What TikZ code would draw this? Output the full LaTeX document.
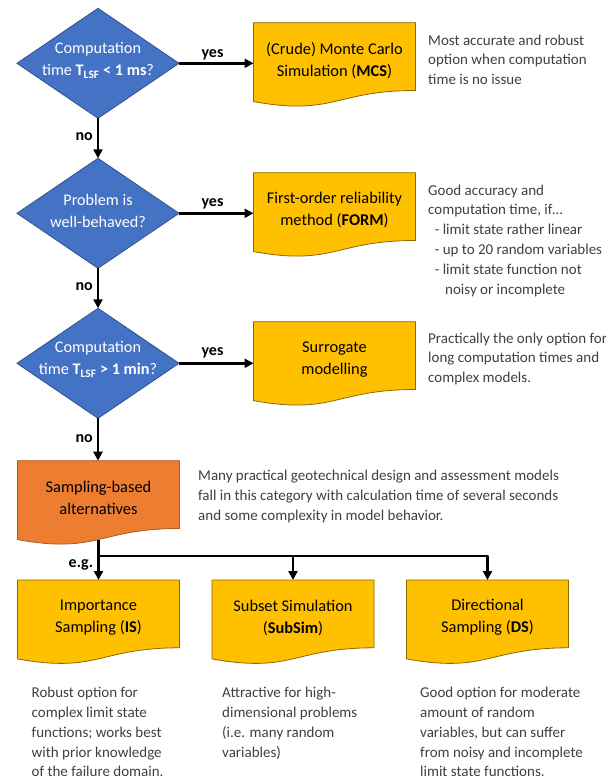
\documentclass[tikz,border=0pt]{standalone}
\usepackage{fontspec}
\setmainfont{Carlito}
\usetikzlibrary{shapes.geometric,arrows.meta}
\pgfdeclarelayer{background}
\pgfsetlayers{background,main}
\definecolor{dblue}{HTML}{4472C4}
\definecolor{dbluel}{HTML}{2F528F}
\definecolor{yel}{HTML}{FFC000}
\definecolor{yell}{HTML}{8C6A00}
\definecolor{ora}{HTML}{ED7D31}
\definecolor{oral}{HTML}{AE5A21}
\definecolor{txtg}{HTML}{404040}
\newcommand{\docshape}[2]{%
 \begin{pgfonlayer}{background}
 \path[#2] (#1.north west) -- (#1.north east) -- ([yshift=-67.8pt]#1.north east)
 .. controls ([yshift=-67.8pt]#1.north) and ([yshift=-93.5pt]#1.north) .. ([yshift=-78.9pt]#1.north west) -- cycle;
 \end{pgfonlayer}}
\begin{document}
\begin{tikzpicture}[x=1pt,y=-1pt,
  dia/.style={diamond, draw=dbluel, fill=dblue, line width=0.8pt, minimum width=162pt, minimum height=110pt, inner sep=0pt, outer sep=0pt},
  diatext/.style={text=white, font=\fontsize{16.2}{22}\selectfont, align=center, inner sep=0pt},
  docbox/.style={anchor=north, minimum width=162pt, minimum height=75pt, inner sep=0pt, outer sep=0pt, align=center, font=\fontsize{16.4}{22}\selectfont},
  yelshape/.style={fill=yel, draw=yell, line width=0.8pt},
  orashape/.style={fill=ora, draw=oral, line width=0.8pt},
  desc/.style={anchor=north west, inner sep=0pt, align=left, text=txtg, font=\fontsize{15}{19.8}\selectfont},
  lbl/.style={inner sep=0pt, font=\bfseries\fontsize{16}{19}\selectfont},
  arr/.style={line width=2.4pt, -{Triangle[length=9pt,width=9pt]}}
]
\begin{pgfonlayer}{background}
\fill[white] (0,0) rectangle (615,782);
\end{pgfonlayer}
\useasboundingbox (0,0) rectangle (615,782);

% decisions
\node[dia] (d1) at (98,63.3) {};
\node[diatext] (d1t) at (98,60.5) {Computation\\time \textbf{T\textsubscript{LSF} < 1 ms}?};
\node[dia] (d2) at (98,213.3) {};
\node[diatext] (d2t) at (98,210.8) {Problem is\\well-behaved?};
\node[dia] (d3) at (98,363.3) {};
\node[diatext] (d3t) at (98,359.5) {Computation\\time \textbf{T\textsubscript{LSF} > 1 min}?};

% documents
\node[docbox] (mcs) at (334.5,22.7) {(Crude) Monte Carlo\\Simulation (\textbf{MCS})};
\node[docbox] (form) at (334.5,172.7) {First-order reliability\\method (\textbf{FORM})};
\node[docbox] (sur) at (334.5,321.7) {Surrogate\\modelling};
\node[docbox] (or) at (98.5,460.7) {Sampling-based\\alternatives};
\node[docbox] (is) at (98.5,580) {Importance\\Sampling (\textbf{IS})};
\node[docbox] (ss) at (293,580) {Subset Simulation\\(\textbf{SubSim})};
\node[docbox] (ds) at (487.5,580) {Directional\\Sampling (\textbf{DS})};
\docshape{mcs}{yelshape}
\docshape{form}{yelshape}
\docshape{sur}{yelshape}
\docshape{or}{orashape}
\docshape{is}{yelshape}
\docshape{ss}{yelshape}
\docshape{ds}{yelshape}

% arrows
\draw[arr] (d1.east) -- (d1.east -| mcs.west);
\draw[arr] (d2.east) -- (d2.east -| form.west);
\draw[arr] (d3.east) -- (d3.east -| sur.west);
\draw[arr] (d1.south) -- (d2.north);
\draw[arr] (d2.south) -- (d3.north);
\draw[arr] (d3.south) -- (d3.south |- or.north);

\coordinate (ob) at ([yshift=-78.8pt]or.north);
\coordinate (jy) at (0,556);
\coordinate (j) at (ob |- jy);
\draw[arr, line join=round] (ob) -- (j) -| (ds.north);
\draw[arr] (j) -- (is.north);
\draw[arr] (j -| ss.north) -- (ss.north);

% labels
\node[lbl, anchor=base] (y1) at (212.5,57) {yes};
\node[lbl, anchor=base] (y2) at (212.5,206.5) {yes};
\node[lbl, anchor=base] (y3) at (212.5,355.5) {yes};
\node[lbl, anchor=base east] (n1) at (93,140.5) {no};
\node[lbl, anchor=base east] (n2) at (93,290.5) {no};
\node[lbl, anchor=base east] (n3) at (93,442) {no};
\node[lbl, anchor=base east] (eg) at (93.3,567) {e.g.};

% descriptions
\node[desc] (t1) at (428,34.5) {Most accurate and robust\\option when computation\\time is no issue};
\node[desc] (t2) at (428,184.5) {Good accuracy and\\computation time, if…\\\hspace*{6.6pt}- limit state rather linear\\\hspace*{6.6pt}- up to 20 random variables\\\hspace*{6.6pt}- limit state function not\\\hspace*{17pt}noisy or incomplete};
\begin{scope}
\clip (0,0) rectangle (605,782);
\node[desc] (t3) at (428,332.5) {Practically the only option for\\long computation times and\\complex models.};
\end{scope}
\node[desc] (t4) at (198,470) {Many practical geotechnical design and assessment models\\fall in this category with calculation time of several seconds\\and some complexity in model behavior.};
\node[desc] (t5) at (31.5,687) {Robust option for\\complex limit state\\functions; works best\\with prior knowledge\\of the failure domain.};
\node[desc] (t6) at (222,687) {Attractive for high-\\dimensional problems\\(i.e. many random\\variables)};
\node[desc] (t7) at (420,687) {Good option for moderate\\amount of random\\variables, but can suffer\\from noisy and incomplete\\limit state functions.};
\end{tikzpicture}
\end{document}
